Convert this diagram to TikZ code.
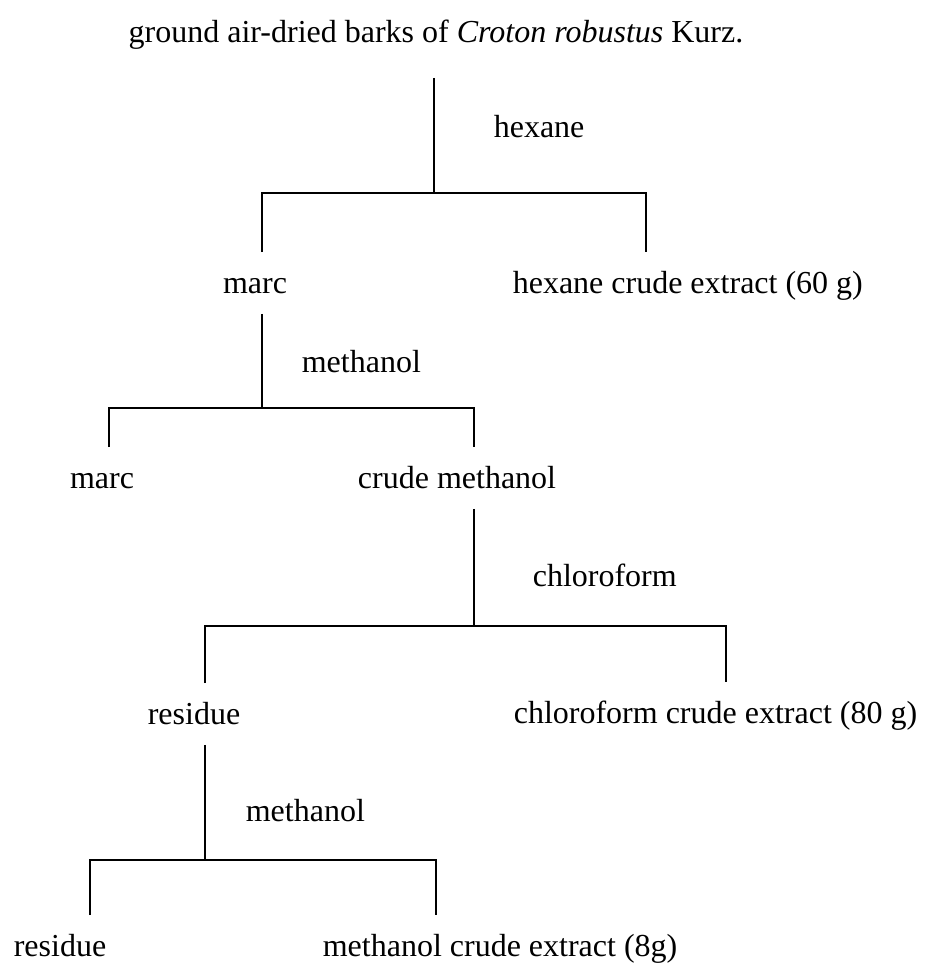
\documentclass[tikz,border=0pt]{standalone}
\usepackage{fontspec}
\setmainfont{Liberation Serif}
\usepackage{tikz}

\begin{document}
\begin{tikzpicture}[
  x=0.5pt, y=-0.5pt,
  line width=0.8pt,
  font=\fontsize{16}{19}\selectfont
]
\tikzset{
    flownode/.style = {inner xsep=0pt, inner ysep=6pt, text height=14pt, text depth=4pt, anchor=base},
    titlenode/.style = {flownode, inner ysep=13.5pt},
    solvent/.style = {inner sep=0pt, anchor=base west}
}
\useasboundingbox (0,0) rectangle (928,966);
% nodes
\node[titlenode] (barks) at (436,42) {ground air-dried barks of \textit{Croton robustus} Kurz.};
\node[flownode] (marcA) at (255,293) {marc};
\node[flownode,anchor=base west] (hexext) at (512,293) {hexane crude extract (60 g)};
\node[flownode] (marcB) at (102,488) {marc};
\node[flownode] (crudeMeOH) at (457,488) {crude methanol};
\node[flownode] (residueA) at (194,724) {residue};
\node[flownode,anchor=base west] (chlext) at (513,723) {chloroform crude extract (80 g)};
\node[flownode,anchor=base west] (residueB) at (13,956) {residue};
\node[flownode,anchor=base west] (meext) at (322,956) {methanol crude extract (8g)};
% solvents
\node[solvent] (hexane) at (493,137) {hexane};
\node[solvent] (methanolA) at (301,372) {methanol};
\node[solvent] (chloroform) at (532,586) {chloroform};
\node[solvent] (methanolB) at (245,821) {methanol};
% split points
\coordinate (splitA) at (434,193);
\coordinate (leftA) at (262,193);
\coordinate (rightA) at (646,193);
\coordinate (splitB) at (262,408);
\coordinate (leftB) at (109,408);
\coordinate (rightB) at (474,408);
\coordinate (splitC) at (474,626);
\coordinate (leftC) at (205,626);
\coordinate (rightC) at (726,626);
\coordinate (splitD) at (205,860);
\coordinate (leftD) at (90,860);
\coordinate (rightD) at (436,860);
% connectors
\draw (barks.south -| splitA) -- (splitA);
\draw (leftA |- marcA.north) -- (leftA) -- (rightA) -- (rightA |- hexext.north);
\draw (marcA.south -| splitB) -- (splitB);
\draw (leftB |- marcB.north) -- (leftB) -- (rightB) -- (rightB |- crudeMeOH.north);
\draw (crudeMeOH.south -| splitC) -- (splitC);
\draw (leftC |- residueA.north) -- (leftC) -- (rightC) -- (rightC |- chlext.north);
\draw (residueA.south -| splitD) -- (splitD);
\draw (leftD |- residueB.north) -- (leftD) -- (rightD) -- (rightD |- meext.north);
\end{tikzpicture}
\end{document}
